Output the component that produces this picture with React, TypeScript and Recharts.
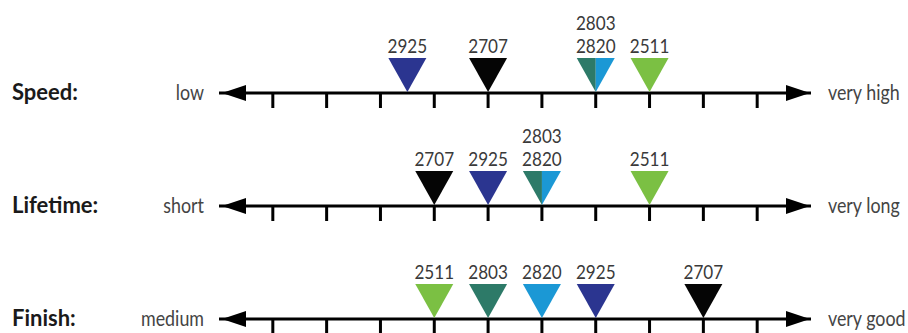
import { ScatterChart, Scatter, XAxis, YAxis, ReferenceDot } from 'recharts';

const products = ['2925', '2707', '2803', '2820', '2511'];
const speed = [3.5, 5, 7, 7, 8];
const lifetime = [5, 4, 6, 6, 8];
const finish = [7, 9, 5, 6, 4];

const rowTitles = ['Speed:', 'Lifetime:', 'Finish:'];
const lowLabels = ['low', 'short', 'medium'];
const highLabels = ['very high', 'very long', 'very good'];
const scaleTicks = [1, 2, 3, 4, 5, 6, 7, 8, 9, 10];
const scaleMin = 0;
const scaleMax = 11;

const COLORS: Record<string, string> = {
  '2925': '#2b3590',
  '2707': '#050505',
  '2803': '#2d7a68',
  '2820': '#1b98d5',
  '2511': '#7bc043',
};

const FONT = 'Lato, "Open Sans", sans-serif';

// products sharing a value are merged into one split marker
function groupRow(values: number[]) {
  const groups = new Map<number, string[]>();
  products.forEach((p, i) => {
    const v = values[i];
    if (!groups.has(v)) groups.set(v, []);
    groups.get(v)!.push(p);
  });
  return [...groups].map(([x, names]) => ({ x, y: 0, names }));
}

// condensed look: squeeze the text horizontally
function NarrowText({ x, y, anchor, size, sx, fill, weight, children }: any) {
  return (
    <text
      transform={`translate(${x},${y}) scale(${sx},1)`}
      textAnchor={anchor}
      fontFamily={FONT}
      fontSize={size}
      fontWeight={weight || 400}
      fill={fill}
    >
      {children}
    </text>
  );
}

function Marker(props: any) {
  const { cx, cy, payload } = props;
  const names: string[] = payload.names;
  const w = 38;
  const top = cy - 35;
  const tip = cy - 1;
  const n = names.length;
  return (
    <g>
      {names.map((name, i) => {
        const xa = cx - w / 2 + (i * w) / n;
        const xb = cx - w / 2 + ((i + 1) * w) / n;
        return <polygon key={name} points={`${xa},${top} ${xb},${top} ${cx},${tip}`} fill={COLORS[name]} />;
      })}
      {names.map((name, i) => (
        <NarrowText key={name} x={cx} y={top - 5 - (n - 1 - i) * 23} anchor="middle" size={19} sx={0.9} fill="#3a3a3a">
          {name}
        </NarrowText>
      ))}
    </g>
  );
}

function LeftEnd(props: any, title: string, label: string) {
  const { cx, cy } = props;
  return (
    <g>
      <polygon points={`${cx + 3},${cy} ${cx + 27},${cy - 8} ${cx + 27},${cy + 8}`} fill="#000" />
      <NarrowText x={cx - 15} y={cy + 7} anchor="end" size={21} sx={0.85} fill="#444">
        {label}
      </NarrowText>
      <NarrowText x={12} y={cy + 7} anchor="start" size={22} sx={1} weight={700} fill="#1a1a1a">
        {title}
      </NarrowText>
    </g>
  );
}

function RightEnd(props: any, label: string) {
  const { cx, cy } = props;
  return (
    <g>
      <polygon points={`${cx - 1},${cy} ${cx - 25},${cy - 8} ${cx - 25},${cy + 8}`} fill="#000" />
      <NarrowText x={cx + 17} y={cy + 7} anchor="start" size={21} sx={0.85} fill="#444">
        {label}
      </NarrowText>
    </g>
  );
}

function ScaleRow({ values, index }: { values: number[]; index: number }) {
  const data = groupRow(values);
  return (
    <ScatterChart width={908} height={113} margin={{ top: 10, right: 97, bottom: 0, left: 219 }}>
      <XAxis
        type="number"
        dataKey="x"
        domain={[scaleMin, scaleMax]}
        ticks={scaleTicks}
        height={20}
        tickFormatter={() => ''}
        tickSize={15}
        axisLine={{ stroke: '#000', strokeWidth: 3 }}
        tickLine={{ stroke: '#000', strokeWidth: 3 }}
      />
      <YAxis type="number" dataKey="y" domain={[0, 1]} hide />
      <ReferenceDot x={scaleMin} y={0} ifOverflow="visible" shape={(p: any) => LeftEnd(p, rowTitles[index], lowLabels[index])} />
      <ReferenceDot x={scaleMax} y={0} ifOverflow="visible" shape={(p: any) => RightEnd(p, highLabels[index])} />
      <Scatter data={data} shape={Marker} isAnimationActive={false} />
    </ScatterChart>
  );
}

export default function App() {
  return (
    <div style={{ position: 'absolute', left: 0, top: 0, width: 908, height: 333, overflow: 'hidden', background: '#fff' }}>
      <ScaleRow values={speed} index={0} />
      <ScaleRow values={lifetime} index={1} />
      <ScaleRow values={finish} index={2} />
    </div>
  );
}
